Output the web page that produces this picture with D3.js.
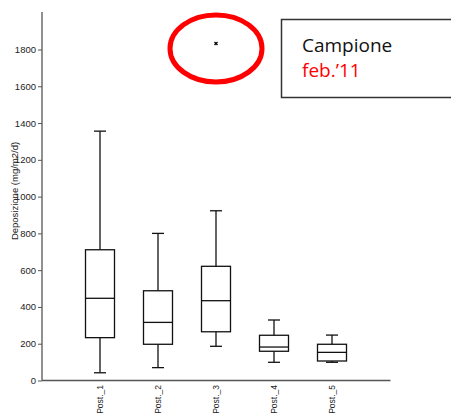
<!DOCTYPE html>
<html><head><meta charset="utf-8">
<script src="https://cdn.jsdelivr.net/npm/d3@7"></script>
<style>body{margin:0;background:#fff}svg{display:block}</style>
</head><body>
<script>
const categories = ["Post._1","Post._2","Post._3","Post._4","Post._5"];
const whiskerLow  = [42, 70, 186, 99, 99];
const q1          = [233, 197, 265, 159, 106];
const median      = [447, 316, 434, 182, 153];
const q3          = [711, 488, 621, 246, 197];
const whiskerHigh = [1356, 800, 923, 329, 247];
const outliers = [{cat:"Post._3", value:1833}];
const yTicks = [0,200,400,600,800,1000,1200,1400,1600,1800];
const yLabel = "Deposizione (mg/m2/d)";
const legendLines = ["Campione","feb.’11"];

const W=451,H=416;
const svg=d3.select("body").append("svg").attr("width",W).attr("height",H);
const x=d3.scalePoint().domain(categories).range([42,390]).padding(1);
const y=d3.scaleLinear().domain([0,1800]).range([380.5,49.5]);
const axisColor="#555";
const sans="Liberation Sans, Arial, sans-serif";

// y axis
const ya=svg.append("g").attr("transform","translate(42,0)")
  .call(d3.axisLeft(y).tickValues(yTicks).tickFormat(d3.format("d")).tickSize(4).tickPadding(2));
ya.select(".domain").remove();
ya.selectAll(".tick line").attr("stroke",axisColor);
ya.selectAll(".tick text").attr("font-family",sans).attr("font-size",9.5).attr("fill","#222");
svg.append("line").attr("x1",42).attr("x2",42).attr("y1",12).attr("y2",y(0)).attr("stroke",axisColor).attr("stroke-width",1.3);
svg.append("line").attr("x1",42).attr("x2",390.5).attr("y1",y(0)).attr("y2",y(0)).attr("stroke",axisColor).attr("stroke-width",1.3);

// x labels
svg.append("g").selectAll("text").data(categories).join("text")
  .attr("transform",d=>`translate(${x(d)+3},385) rotate(-90)`)
  .attr("text-anchor","end")
  .attr("font-family",sans).attr("font-size",8.5).attr("fill","#222")
  .text(d=>d);

// y label
svg.append("text").attr("transform","translate(18,191) rotate(-90)")
  .attr("text-anchor","middle").attr("font-family",sans)
  .attr("font-size",9.5).attr("fill","#222").text(yLabel);

// boxes
const bw=29, cap=12;
const g=svg.append("g").attr("stroke","#111").attr("stroke-width",1.3).attr("fill","none");
categories.forEach((c,i)=>{
  const cx=x(c);
  g.append("line").attr("x1",cx).attr("x2",cx).attr("y1",y(whiskerHigh[i])).attr("y2",y(q3[i]));
  g.append("line").attr("x1",cx).attr("x2",cx).attr("y1",y(q1[i])).attr("y2",y(whiskerLow[i]));
  g.append("line").attr("x1",cx-cap/2).attr("x2",cx+cap/2).attr("y1",y(whiskerHigh[i])).attr("y2",y(whiskerHigh[i]));
  g.append("line").attr("x1",cx-cap/2).attr("x2",cx+cap/2).attr("y1",y(whiskerLow[i])).attr("y2",y(whiskerLow[i]));
  g.append("rect").attr("x",cx-bw/2).attr("y",y(q3[i])).attr("width",bw).attr("height",y(q1[i])-y(q3[i]));
  g.append("line").attr("x1",cx-bw/2).attr("x2",cx+bw/2).attr("y1",y(median[i])).attr("y2",y(median[i]));
});

// outliers as asterisks
outliers.forEach(o=>{
  const ox=x(o.cat), oy=y(o.value);
  svg.append("path").attr("d",d3.symbol(d3.symbolTimes,7)()).attr("transform",`translate(${ox},${oy})`)
    .attr("stroke","#000").attr("stroke-width",1.3);
  svg.append("ellipse").attr("cx",ox).attr("cy",oy+5).attr("rx",46).attr("ry",33.5)
    .attr("fill","none").attr("stroke","#f00").attr("stroke-width",5);
});

// legend box (right edge runs off the picture)
svg.append("rect").attr("x",281.5).attr("y",19.5).attr("width",200).attr("height",78)
  .attr("fill","#fff").attr("stroke","#333").attr("stroke-width",1.5);
svg.append("text").attr("x",302).attr("y",52).attr("font-family","Open Sans, Noto Sans, sans-serif")
  .attr("font-size",19).attr("fill","#111").text(legendLines[0]);
svg.append("text").attr("x",302).attr("y",77).attr("font-family","Open Sans, Noto Sans, sans-serif")
  .attr("font-size",19).attr("fill","#f00").text(legendLines[1]);
</script>
</body></html>
